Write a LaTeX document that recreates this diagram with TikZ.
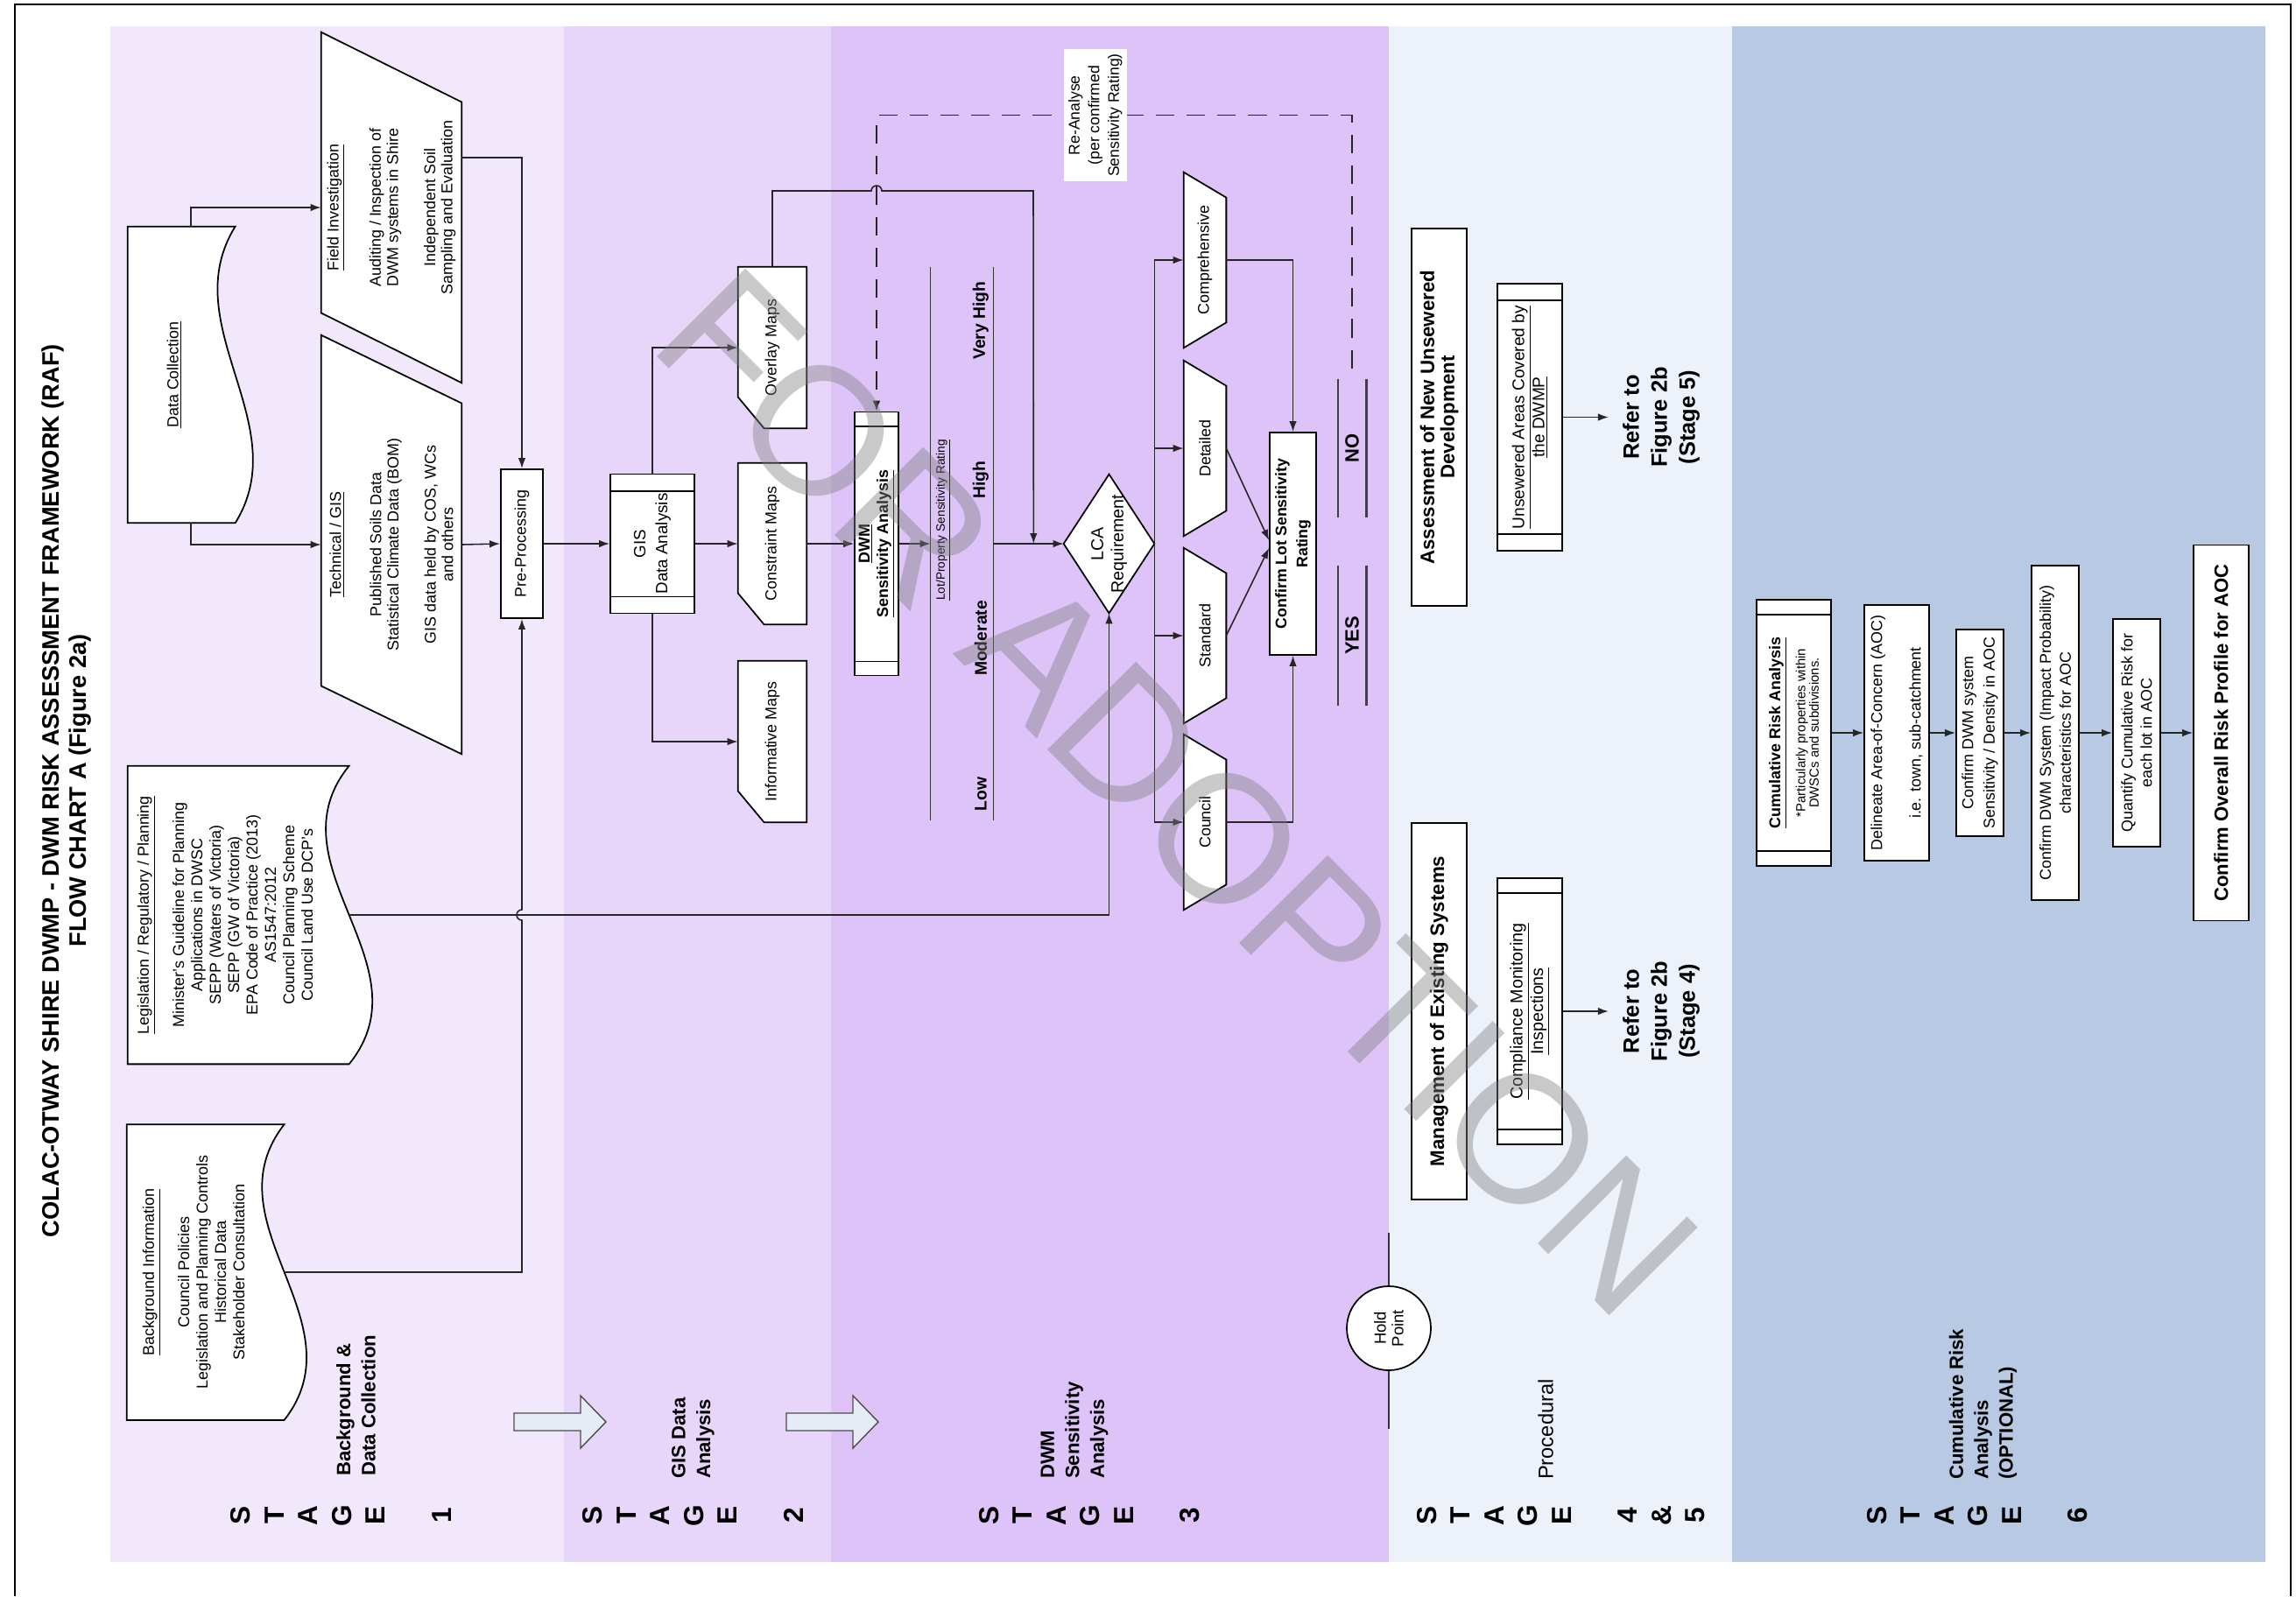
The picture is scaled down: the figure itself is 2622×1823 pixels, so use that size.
\documentclass[tikz,border=0pt]{standalone}
\usepackage{fontspec}
\setmainfont{Liberation Sans}
\usetikzlibrary{arrows.meta,calc}
\definecolor{BandOne}{HTML}{F1E9FB}
\definecolor{BandTwo}{HTML}{E8D6FA}
\definecolor{BandThree}{HTML}{DEC3F8}
\definecolor{BandFour}{HTML}{ECF1FA}
\definecolor{BandSix}{HTML}{B8C9E3}
\definecolor{StageArrow}{HTML}{E6ECF5}
\pgfdeclarelayer{bands}
\pgfdeclarelayer{outlines}
\pgfsetlayers{bands,outlines,main}
% fonts
\newcommand{\ftitle}{\fontsize{15.5}{17.6}\selectfont\bfseries}
\newcommand{\fstage}{\fontsize{18}{21.9}\selectfont\bfseries}
\newcommand{\fslab}{\fontsize{12.6}{16.2}\selectfont\bfseries}
\newcommand{\fproc}{\fontsize{13.5}{16}\selectfont}
\newcommand{\fdoc}{\fontsize{10.2}{11.95}\selectfont}
\newcommand{\fsmall}{\fontsize{10.2}{11.2}\selectfont}
\newcommand{\fmap}{\fontsize{10.2}{12}\selectfont}
\newcommand{\fgis}{\fontsize{10.7}{14.2}\selectfont}
\newcommand{\fdwm}{\fontsize{10.2}{12}\selectfont\bfseries}
\newcommand{\flot}{\fontsize{7.8}{9}\selectfont}
\newcommand{\frate}{\fontsize{11}{13}\selectfont\bfseries}
\newcommand{\flca}{\fontsize{11.2}{13}\selectfont}
\newcommand{\fconf}{\fontsize{10.1}{13.6}\selectfont\bfseries}
\newcommand{\fyes}{\fontsize{12.5}{14}\selectfont\bfseries}
\newcommand{\fnote}{\fontsize{10}{12.8}\selectfont}
\newcommand{\fhold}{\fontsize{10.5}{11.4}\selectfont}
\newcommand{\fassess}{\fontsize{12.7}{13.1}\selectfont\bfseries}
\newcommand{\funsew}{\fontsize{10.9}{11.4}\selectfont}
\newcommand{\fcompl}{\fontsize{11.2}{12}\selectfont}
\newcommand{\frefer}{\fontsize{14.5}{18.2}\selectfont\bfseries}
\newcommand{\fsub}{\fontsize{8.5}{8.6}\selectfont}
\newcommand{\foverall}{\fontsize{12.6}{14}\selectfont\bfseries}
\newcommand{\fmark}{\fontsize{118}{118}\selectfont}
% outlines of the non-rectangular shapes (drawn round invisible nodes)
\newcommand{\docoutline}[3]{%
  \draw[outl] (#1.north east) -- ($(#1.north east)+(#2,0)$)
    .. controls ($(#1.north east)!1/3!(#1.north west)+(#2-#3,0)$) and ($(#1.north east)!2/3!(#1.north west)+(#2+#3,0)$) .. ($(#1.north west)+(#2,0)$)
    -- (#1.north west) -- cycle;}
\newcommand{\slantoutline}[2]{%
  \draw[outl] (#1.north east) -- ($(#1.south east)+(0,#2)$) -- (#1.south west) -- ($(#1.north west)+(0,-#2)$) -- cycle;}
\newcommand{\cardoutline}[1]{%
  \draw[outl] (#1.north east) -- (#1.south east) -- (#1.south west) -- ($(#1.north west)+(30,0)$) -- ($(#1.north west)+(0,-36)$) -- cycle;}
\newcommand{\trapoutline}[1]{%
  \draw[outl] (#1.north east) -- ($(#1.south east)+(0,29)$) -- ($(#1.south west)+(0,-29)$) -- (#1.north west) -- cycle;}
\newcommand{\sidebars}[2]{%
  \draw[boxline] ($(#1.north east)+(0,#2)$) -- ($(#1.south east)+(0,#2)$);
  \draw[boxline] ($(#1.north west)+(0,-#2)$) -- ($(#1.south west)+(0,-#2)$);}

\begin{document}
\begin{tikzpicture}[x=0.02cm, y=-0.02cm,
    rot/.style={rotate=90, align=center, inner sep=1pt},
    box/.style={rot, draw=black, line width=1pt, fill=white},
    shp/.style={rot},
    sz/.style 2 args={minimum width={#1*0.02cm}, minimum height={#2*0.02cm}},
    outl/.style={draw=black, line width=1pt, fill=white},
    boxline/.style={draw=black, line width=1pt},
    conn/.style={draw=black!85, line width=0.9pt, -{Latex[length=0.24cm,width=0.17cm]}},
    dashconn/.style={conn, dash pattern=on 12pt off 8pt},
    relabel/.style={rot, fill=white, font=\fnote, inner sep=3pt},
    ratebar/.style={draw=black!80, line width=0.9pt},
    outcomebar/.style={draw=black!75, line width=1.3pt},
    stagearrow/.style={draw=black!70, line width=0.8pt, fill=StageArrow},
    stagelab/.style={rot, anchor=west, align=left, font=\fslab},
    stageword/.style={rot, font=\fstage}]
  \useasboundingbox (0,0) rectangle (2622,1823);
  \begin{pgfonlayer}{bands}
    \fill[white] (0,0) rectangle (2622,1823);
    \fill[BandOne] (126,30) rectangle (644,1784);
    \fill[BandTwo] (644,30) rectangle (949,1784);
    \fill[BandThree] (949,30) rectangle (1586,1784);
    \fill[BandFour] (1586,30) rectangle (1978,1784);
    \fill[BandSix] (1978,30) rectangle (2587,1784);
  \end{pgfonlayer}
  \draw[line width=1.4pt] (17,1823) -- (17,5) -- (2616,5) -- (2616,1823);

  \node[rot, font=\ftitle] (title) at (76,903) {COLAC-OTWAY SHIRE DWMP - DWM RISK ASSESSMENT FRAMEWORK (RAF)\\FLOW CHART A (Figure 2a)};

  % stage 1
  \node[shp, font=\fdoc, sz={338}{106}] (dcol) at (199,428) {\underline{Data Collection}};
  \node[shp, font=\fsmall, sz={400}{160}] (fieldinv) at (447,237) {\underline{Field Investigation}\\[15pt]Auditing / Inspection of\\DWM systems in Shire\\[13pt]Independent Soil\\Sampling and Evaluation};
  \node[shp, font=\fsmall, sz={478}{160}] (techgis) at (447,622) {\underline{Technical / GIS}\\[15pt]Published Soils Data\\Statistical Climate Data (BOM)\\[13pt]GIS data held by COS, WCs\\and others};
  \node[shp, font=\fdoc, sz={340}{222}] (legis) at (257,1045) {\underline{Legislation / Regulatory / Planning}\\[11pt]Minister's Guideline for Planning\\Applications in DWSC\\SEPP (Waters of Victoria)\\SEPP (GW of Victoria)\\EPA Code of Practice (2013)\\AS1547:2012\\Council Planning Scheme\\Council Land Use DCP's};
  \node[shp, font=\fdoc, sz={337}{152}] (bginfo) at (221,1453) {\underline{Background Information}\\[11pt]Council Policies\\Legislation and Planning Controls\\Historical Data\\Stakeholder Consultation};
  \node[box, font=\fmap, sz={170}{48}] (pre) at (596,621) {Pre-Processing};

  % stage 2
  \node[box, font=\fgis, sz={159}{96}] (gis) at (745,621) {GIS\\Data Analysis};
  \node[shp, font=\fmap, sz={184}{78}] (overlay) at (882,397) {Overlay Maps};
  \node[shp, font=\fmap, sz={184}{78}] (constraint) at (882,621) {Constraint Maps};
  \node[shp, font=\fmap, sz={184}{78}] (informative) at (882,847) {Informative Maps};

  % stage 3
  \node[box, font=\fdwm, sz={301}{50}] (dwm) at (1001,621) {\underline{DWM}\\\underline{Sensitivity Analysis}};
  \node[rot, sz={632}{71}] (lot) at (1098.5,621) {};
  \node[rot, font=\flot] (lottitle) at (1077,594) {\underline{Lot/Property Sensitivity Rating}};
  \node[rot, font=\frate] (rlow) at (1120,907) {Low};
  \node[rot, font=\frate] (rmod) at (1120,729) {Moderate};
  \node[rot, font=\frate] (rhigh) at (1120,548) {High};
  \node[rot, font=\frate] (rvhigh) at (1120,366) {Very High};
  \coordinate (ovjoin) at ($(lot.south)!0.57!(1215,621)$);
  \node[shp, font=\flca, sz={158}{103}] (lca) at (1266.5,621) {LCA\\Requirement};
  \node[shp, font=\fmap, sz={200}{48}] (comp) at (1376,297) {Comprehensive};
  \node[shp, font=\fmap, sz={200}{48}] (detailed) at (1376,512) {Detailed};
  \node[shp, font=\fmap, sz={200}{48}] (standard) at (1376,726) {Standard};
  \node[shp, font=\fmap, sz={200}{48}] (council) at (1376,939) {Council};
  \node[box, font=\fconf, sz={254}{53}] (confirm) at (1476.5,621) {Confirm Lot Sensitivity\\Rating};
  \node[rot, font=\fyes, sz={158}{32}] (nonode) at (1544,512) {NO};
  \node[rot, font=\fyes, sz={160}{32}] (yesnode) at (1544,726) {YES};
  \node[box, circle, font=\fhold, minimum size=1.92cm, inner sep=0pt] (holdpt) at (1586,1517) {Hold\\Point};

  % stage 4 & 5
  \node[box, font=\fassess, sz={431}{63}] (assess) at (1643.5,476.5) {Assessment of New Unsewered\\Development};
  \node[box, font=\funsew, sz={305}{74}] (unsew) at (1747,476.5) {\underline{Unsewered Areas Covered by}\\\underline{the DWMP}};
  \node[rot, font=\frefer, inner sep=9pt] (refer5) at (1897,476.5) {Refer to\\Figure 2b\\(Stage 5)};
  \node[box, font=\fassess, sz={430}{63}] (manage) at (1643.5,1155) {Management of Existing Systems};
  \node[box, font=\fcompl, sz={304}{74}] (compl) at (1747,1155) {\underline{Compliance Monitoring}\\\underline{Inspections}};
  \node[rot, font=\frefer, inner sep=9pt] (refer4) at (1897,1155) {Refer to\\Figure 2b\\(Stage 4)};

  % stage 6
  \node[box, font=\fsub, sz={304}{85}] (cumrisk) at (2048.5,837) {{\fontsize{10.2}{12}\selectfont\bfseries\underline{Cumulative Risk Analysis}}\\[5pt]*Particularly properties within\\DWSCs and subdivisions.};
  \node[box, font=\fontsize{10.2}{12.5}\selectfont, sz={292}{74}] (delin) at (2166,837) {Delineate Area-of-Concern (AOC)\\[12.5pt]i.e. town, sub-catchment};
  \node[box, font=\fontsize{10.2}{14}\selectfont, sz={236}{54}] (confsys) at (2261,837) {Confirm DWM system\\Sensitivity / Density in AOC};
  \node[box, font=\fontsize{10.2}{13}\selectfont, sz={382}{54}] (confimp) at (2347,837) {Confirm DWM System (Impact Probability)\\characteristics for AOC};
  \node[box, font=\fontsize{10.2}{12.5}\selectfont, sz={260}{54}] (quant) at (2440,837) {Quantify Cumulative Risk for\\each lot in AOC};
  \node[box, font=\foverall, sz={429}{63}] (overall) at (2536.5,837) {Confirm Overall Risk Profile for AOC};

  % stage headings
  \node[stageword] (stageone) at (389.5,1731) {S\\T\\A\\G\\E\\[21pt]1};
  \node[stagelab] (labone) at (406.5,1688) {Background \&\\Data Collection};
  \node[stageword] (stagetwo) at (791.5,1731) {S\\T\\A\\G\\E\\[21pt]2};
  \node[stagelab] (labtwo) at (791.5,1691) {GIS Data\\Analysis};
  \node[stageword] (stagethree) at (1244,1731) {S\\T\\A\\G\\E\\[21pt]3};
  \node[stagelab] (labthree) at (1227,1691) {DWM\\Sensitivity\\Analysis};
  \node[stageword] (stagefour) at (1782.5,1731) {S\\T\\A\\G\\E\\[21pt]4\\\&\\5};
  \node[stagelab, font=\fproc] (labfour) at (1765,1692) {Procedural};
  \node[stageword] (stagesix) at (2258,1731) {S\\T\\A\\G\\E\\[21pt]6};
  \node[stagelab] (labsix) at (2264.5,1692) {Cumulative Risk\\Analysis\\(OPTIONAL)};

  \begin{pgfonlayer}{outlines}
    \docoutline{dcol}{123}{70}
    \docoutline{legis}{253}{92}
    \docoutline{bginfo}{180}{88}
    \slantoutline{fieldinv}{80}
    \slantoutline{techgis}{78}
    \cardoutline{overlay}
    \cardoutline{constraint}
    \cardoutline{informative}
    \trapoutline{comp}
    \trapoutline{detailed}
    \trapoutline{standard}
    \trapoutline{council}
    \draw[outl] (lca.north) -- (lca.east) -- (lca.south) -- (lca.west) -- cycle;
  \end{pgfonlayer}

  \sidebars{gis}{20}
  \sidebars{dwm}{17}
  \sidebars{unsew}{20}
  \sidebars{compl}{18}
  \sidebars{cumrisk}{18}
  \draw[ratebar] (lot.north east) -- (lot.north west);
  \draw[ratebar] (lot.south east) -- (lot.south west);
  \foreach \o in {nonode,yesnode} {
    \draw[outcomebar] (\o.north east) -- (\o.north west);
    \draw[outcomebar] (\o.south east) -- (\o.south west);
  }
  \draw[draw=black!80, line width=1.3pt] (holdpt.east) -- ++(0,-60);
  \draw[draw=black!80, line width=1.3pt] (holdpt.west) -- ++(0,66);
  \foreach \sx in {587,898}
    \draw[stagearrow] (\sx,1614) -- ++(76,0) -- ++(0,-20) -- ++(29,30) -- ++(-29,30) -- ++(0,-20) -- ++(-76,0) -- cycle;

  % connectors
  \draw[conn] ($(dcol.east)+(19,0)$) |- (fieldinv.north);
  \draw[conn] ($(dcol.west)+(19,0)$) |- (techgis.north);
  \draw[conn] ($(fieldinv.south)+(0,-57)$) -| (pre.east);
  \draw[conn] (techgis.south) -- (pre.north);
  \draw[conn] ($(bginfo.south)+(28,0)$) -| (596,1051) arc[start angle=-90, end angle=-270, radius=0.12cm] -- (pre.west);
  \draw[conn] ($(legis.south)+(31,0)$) -| (lca.west);
  \draw[conn] (pre.south) -- (gis.north);
  \draw[conn] (gis.east) |- (overlay.north);
  \draw[conn] (gis.south) -- (constraint.north);
  \draw[conn] (gis.west) |- (informative.north);
  \draw[conn] (constraint.south) -- (dwm.north);
  \draw[conn] (dwm.south) -- (lot.north);
  \draw[conn] (lot.south) -- (lca.north);
  \draw[conn] (overlay.east) |- (995,218) arc[start angle=180, end angle=0, radius=0.12cm] -- (1180,218) -- (ovjoin);
  \foreach \t in {comp,detailed,standard,council}
    \draw[conn] (lca.south) |- (\t.north);
  \draw[conn] (comp.south) -| (confirm.east);
  \draw[conn] (council.south) -| (confirm.west);
  \draw[conn] (detailed.south) -- ($(confirm.north)+(0,-4)$);
  \draw[conn] (standard.south) -- ($(confirm.north)+(0,5)$);
  \draw[dashconn, shorten <=0.24cm] (nonode.east) |- node[pos=0.77, relabel] (reanalyse) {Re-Analyse\\(per confirmed\\Sensitivity Rating)} ($(dwm.east)+(0,-338)$) -- (dwm.east);
  \draw[conn] (unsew.south) -- (refer5.north);
  \draw[conn] (compl.south) -- (refer4.north);
  \foreach \a/\b in {cumrisk/delin,delin/confsys,confsys/confimp,confimp/quant,quant/overall}
    \draw[conn] (\a.south) -- (\b.north);

  % watermark
  \node[rotate=-45.2, font=\fmark, text=black!50, text opacity=0.42] (watermark) at (1345,905) {FOR ADOPTION};
\end{tikzpicture}
\end{document}
